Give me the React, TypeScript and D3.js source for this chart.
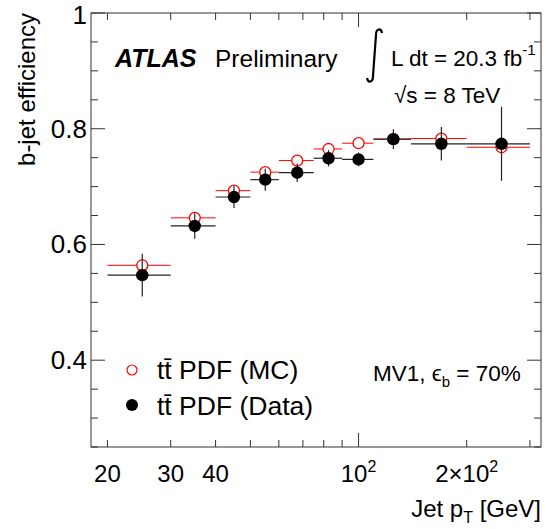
import * as d3 from 'd3';
import * as React from 'react';

// bin edges in jet pT [GeV]
const binEdges = [20, 30, 40, 50, 60, 75, 90, 110, 140, 200, 300];
const binCenters = [25, 35, 45, 55, 67.5, 82.5, 100, 125, 170, 250];
const mcEff = [0.564, 0.646, 0.693, 0.725, 0.745, 0.765, 0.775, 0.782, 0.783, 0.768];
const mcErr = [0.004, 0.003, 0.003, 0.003, 0.003, 0.003, 0.003, 0.003, 0.004, 0.005];
const dataEff = [0.547, 0.632, 0.682, 0.712, 0.724, 0.749, 0.747, 0.782, 0.774, 0.774];
const dataErr = [0.037, 0.022, 0.019, 0.019, 0.016, 0.014, 0.012, 0.017, 0.029, 0.064];

const yMajor = [0.4, 0.6, 0.8, 1];
const xMinor = [20, 30, 40, 50, 60, 70, 80, 90, 200, 300];
const xMajor = [100];
const xLabels = [
  { v: 20, t: '20' },
  { v: 30, t: '30' },
  { v: 40, t: '40' },
  { v: 100, t: '10', sup: '2' },
  { v: 200, t: '2×10', sup: '2' },
];

const W = 546;
const H = 529;
const left = 91;
const right = 541;
const top = 13;
const bottom = 447;
const font = '"Liberation Sans", Arial, Helvetica, sans-serif';

export default function App() {
  const x = d3.scaleLog().domain([18, 322]).range([left, right]);
  const y = d3.scaleLinear().domain([0.25, 1]).range([bottom, top]);
  const yMinor = d3.range(0.25, 1.0001, 0.05).map((v) => +v.toFixed(2));
  const axisColor = '#333';

  return (
    <svg width={W} height={H} style={{ position: 'absolute', left: 0, top: 0 }} fontFamily={font}>
      <rect x={0} y={0} width={W} height={H} fill="#fff" />
      {/* frame */}
      <rect x={left} y={top} width={right - left} height={bottom - top} fill="none" stroke={axisColor} strokeWidth={1} />

      {/* y ticks */}
      {yMinor.map((v) => {
        const major = yMajor.some((m) => Math.abs(m - v) < 1e-6);
        const len = major ? 14 : 7;
        return (
          <g key={'y' + v} stroke={axisColor}>
            <line x1={left} x2={left + len} y1={y(v)} y2={y(v)} />
            <line x1={right} x2={right - len} y1={y(v)} y2={y(v)} />
          </g>
        );
      })}
      {yMajor.map((v) => (
        <text key={'yl' + v} x={left - 4} y={y(v) + (v === 1 ? 11 : 9)} textAnchor="end" fontSize={26} fill="#000">
          {v === 1 ? '1' : v.toFixed(1)}
        </text>
      ))}

      {/* x ticks */}
      {[...xMinor, ...xMajor].map((v) => {
        const len = xMajor.includes(v) ? 14 : 7;
        return (
          <g key={'x' + v} stroke={axisColor}>
            <line x1={x(v)} x2={x(v)} y1={bottom} y2={bottom - len} />
            <line x1={x(v)} x2={x(v)} y1={top} y2={top + len} />
          </g>
        );
      })}
      {xLabels.map((l) => (
        <text key={'xl' + l.v} x={x(l.v)} y={482} textAnchor="middle" fontSize={24} fill="#000">
          {l.t}
          {l.sup && (
            <tspan dy={-10} fontSize={16}>
              {l.sup}
            </tspan>
          )}
        </text>
      ))}

      {/* axis titles */}
      <text x={541} y={517} textAnchor="end" fontSize={24} fill="#000">
        Jet p<tspan dy={6} fontSize={16}>T</tspan>
        <tspan dy={-6}> [GeV]</tspan>
      </text>
      <text transform={`translate(35, ${top}) rotate(-90)`} textAnchor="end" fontSize={24} fill="#000">
        b-jet efficiency
      </text>

      {/* MC points */}
      {mcEff.map((v, i) => (
        <g key={'mc' + i} stroke="#f00" strokeWidth={1}>
          <line x1={x(binEdges[i])} x2={x(binEdges[i + 1])} y1={y(v)} y2={y(v)} />
          <line x1={x(binCenters[i])} x2={x(binCenters[i])} y1={y(v - mcErr[i])} y2={y(v + mcErr[i])} />
          <circle cx={x(binCenters[i])} cy={y(v)} r={5.5} fill="#fff" strokeWidth={1.3} />
        </g>
      ))}
      {/* data points */}
      {dataEff.map((v, i) => (
        <g key={'d' + i} stroke="#222" strokeWidth={1.2}>
          <line x1={x(binEdges[i])} x2={x(binEdges[i + 1])} y1={y(v)} y2={y(v)} />
          <line x1={x(binCenters[i])} x2={x(binCenters[i])} y1={y(v - dataErr[i])} y2={y(v + dataErr[i])} />
          <circle cx={x(binCenters[i])} cy={y(v)} r={6.2} fill="#000" stroke="none" />
        </g>
      ))}

      {/* labels */}
      <text x={115} y={67} fontSize={25} fontWeight="bold" fontStyle="italic" fill="#000">
        ATLAS
      </text>
      <text x={215} y={67} fontSize={24.5} fill="#000">
        Preliminary
      </text>
      <path
        d="M382 33 C381 28 376 28 376 35 L373 76 C373 83 368 83 367 78"
        fill="none"
        stroke="#000"
        strokeWidth={2.2}
      />
      <text x={391} y={66} fontSize={22.5} fill="#000">
        L dt = 20.3 fb<tspan dy={-11} fontSize={15}>-1</tspan>
      </text>
      <text x={394} y={103} fontSize={22.5} fill="#000">
        √s = 8 TeV
      </text>

      {/* legend */}
      <circle cx={132} cy={370} r={5} fill="#fff" stroke="#f00" strokeWidth={1.2} />
      <text x={157} y={379} fontSize={26.5} fill="#000">
        tt̄ PDF (MC)
      </text>
      <circle cx={132} cy={405} r={6} fill="#000" />
      <text x={157} y={415} fontSize={26.5} fill="#000">
        tt̄ PDF (Data)
      </text>
      <text x={373} y={381} fontSize={22.5} fill="#000">
        MV1, ϵ<tspan dy={6} fontSize={15}>b</tspan>
        <tspan dy={-6}> = 70%</tspan>
      </text>
    </svg>
  );
}
